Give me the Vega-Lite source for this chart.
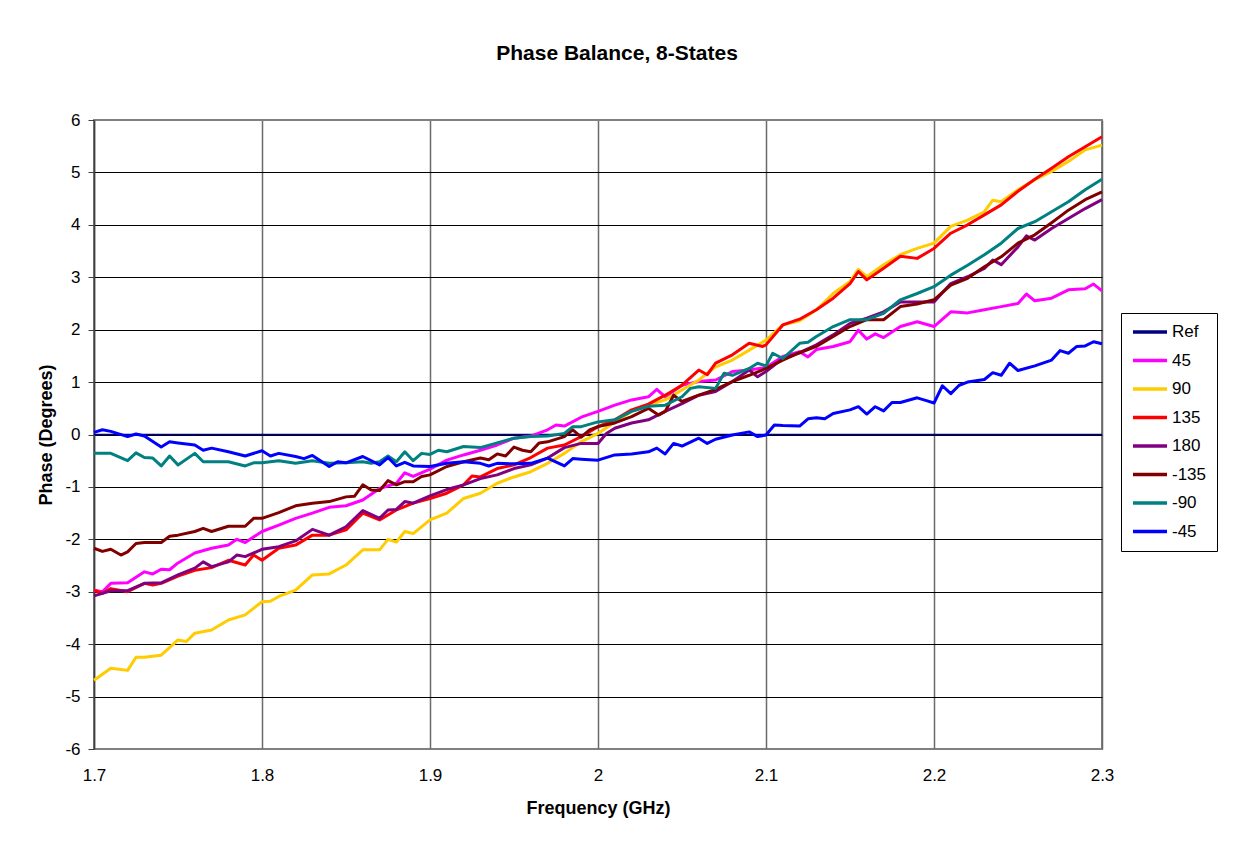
{
  "$schema": "https://vega.github.io/schema/vega-lite/v6.json",
  "autosize": "none",
  "width": 1008,
  "height": 629,
  "padding": {"left": 94, "top": 120, "right": 131, "bottom": 103},
  "background": "white",
  "config": {
    "font": "Liberation Sans",
    "view": {"stroke": "#808080", "strokeWidth": 2}
  },
  "title": {
    "text": "Phase Balance, 8-States",
    "font": "Liberation Sans",
    "fontSize": 21,
    "fontWeight": "bold",
    "color": "black",
    "anchor": "middle",
    "dx": 19,
    "offset": 47
  },
  "data": {
    "values": [
      {"s":"Ref","f":1.7,"v":0},{"s":"Ref","f":1.8,"v":0},{"s":"Ref","f":1.9,"v":0},{"s":"Ref","f":2.0,"v":0},{"s":"Ref","f":2.1,"v":0},{"s":"Ref","f":2.2,"v":0},{"s":"Ref","f":2.3,"v":0},

      {"s":"45","f":1.7,"v":-2.97},{"s":"45","f":1.705,"v":-3.0},{"s":"45","f":1.71,"v":-2.84},{"s":"45","f":1.72,"v":-2.83},{"s":"45","f":1.73,"v":-2.62},{"s":"45","f":1.735,"v":-2.66},{"s":"45","f":1.74,"v":-2.57},{"s":"45","f":1.745,"v":-2.58},{"s":"45","f":1.75,"v":-2.45},{"s":"45","f":1.76,"v":-2.26},{"s":"45","f":1.77,"v":-2.17},{"s":"45","f":1.78,"v":-2.11},{"s":"45","f":1.785,"v":-2.0},{"s":"45","f":1.79,"v":-2.06},{"s":"45","f":1.8,"v":-1.85},{"s":"45","f":1.81,"v":-1.73},{"s":"45","f":1.82,"v":-1.6},{"s":"45","f":1.83,"v":-1.5},{"s":"45","f":1.84,"v":-1.39},{"s":"45","f":1.85,"v":-1.36},{"s":"45","f":1.86,"v":-1.25},{"s":"45","f":1.87,"v":-1.03},{"s":"45","f":1.88,"v":-0.93},{"s":"45","f":1.885,"v":-0.73},{"s":"45","f":1.89,"v":-0.8},{"s":"45","f":1.9,"v":-0.66},{"s":"45","f":1.91,"v":-0.49},{"s":"45","f":1.92,"v":-0.39},{"s":"45","f":1.93,"v":-0.3},{"s":"45","f":1.94,"v":-0.2},{"s":"45","f":1.95,"v":-0.07},{"s":"45","f":1.96,"v":-0.03},{"s":"45","f":1.97,"v":0.09},{"s":"45","f":1.975,"v":0.18},{"s":"45","f":1.98,"v":0.16},{"s":"45","f":1.99,"v":0.33},{"s":"45","f":2.0,"v":0.44},{"s":"45","f":2.01,"v":0.56},{"s":"45","f":2.02,"v":0.66},{"s":"45","f":2.03,"v":0.72},{"s":"45","f":2.035,"v":0.86},{"s":"45","f":2.04,"v":0.72},{"s":"45","f":2.05,"v":0.94},{"s":"45","f":2.06,"v":1.01},{"s":"45","f":2.07,"v":1.04},{"s":"45","f":2.08,"v":1.2},{"s":"45","f":2.09,"v":1.23},{"s":"45","f":2.1,"v":1.28},{"s":"45","f":2.11,"v":1.49},{"s":"45","f":2.12,"v":1.58},{"s":"45","f":2.125,"v":1.48},{"s":"45","f":2.13,"v":1.62},{"s":"45","f":2.14,"v":1.68},{"s":"45","f":2.15,"v":1.77},{"s":"45","f":2.155,"v":1.99},{"s":"45","f":2.16,"v":1.82},{"s":"45","f":2.165,"v":1.92},{"s":"45","f":2.17,"v":1.85},{"s":"45","f":2.18,"v":2.06},{"s":"45","f":2.19,"v":2.15},{"s":"45","f":2.2,"v":2.06},{"s":"45","f":2.21,"v":2.34},{"s":"45","f":2.22,"v":2.32},{"s":"45","f":2.23,"v":2.38},{"s":"45","f":2.24,"v":2.44},{"s":"45","f":2.25,"v":2.5},{"s":"45","f":2.255,"v":2.68},{"s":"45","f":2.26,"v":2.55},{"s":"45","f":2.27,"v":2.6},{"s":"45","f":2.28,"v":2.76},{"s":"45","f":2.29,"v":2.78},{"s":"45","f":2.295,"v":2.87},{"s":"45","f":2.3,"v":2.74},

      {"s":"90","f":1.7,"v":-4.69},{"s":"90","f":1.71,"v":-4.46},{"s":"90","f":1.72,"v":-4.5},{"s":"90","f":1.725,"v":-4.25},{"s":"90","f":1.73,"v":-4.25},{"s":"90","f":1.74,"v":-4.21},{"s":"90","f":1.75,"v":-3.92},{"s":"90","f":1.755,"v":-3.95},{"s":"90","f":1.76,"v":-3.79},{"s":"90","f":1.77,"v":-3.73},{"s":"90","f":1.78,"v":-3.54},{"s":"90","f":1.79,"v":-3.44},{"s":"90","f":1.8,"v":-3.19},{"s":"90","f":1.805,"v":-3.18},{"s":"90","f":1.81,"v":-3.09},{"s":"90","f":1.82,"v":-2.97},{"s":"90","f":1.83,"v":-2.68},{"s":"90","f":1.84,"v":-2.66},{"s":"90","f":1.85,"v":-2.49},{"s":"90","f":1.86,"v":-2.2},{"s":"90","f":1.87,"v":-2.2},{"s":"90","f":1.875,"v":-2.0},{"s":"90","f":1.88,"v":-2.05},{"s":"90","f":1.885,"v":-1.85},{"s":"90","f":1.89,"v":-1.89},{"s":"90","f":1.9,"v":-1.63},{"s":"90","f":1.91,"v":-1.5},{"s":"90","f":1.92,"v":-1.22},{"s":"90","f":1.93,"v":-1.12},{"s":"90","f":1.94,"v":-0.93},{"s":"90","f":1.95,"v":-0.81},{"s":"90","f":1.96,"v":-0.71},{"s":"90","f":1.97,"v":-0.55},{"s":"90","f":1.98,"v":-0.36},{"s":"90","f":1.99,"v":-0.14},{"s":"90","f":2.0,"v":0.02},{"s":"90","f":2.01,"v":0.24},{"s":"90","f":2.02,"v":0.44},{"s":"90","f":2.03,"v":0.56},{"s":"90","f":2.04,"v":0.66},{"s":"90","f":2.05,"v":0.85},{"s":"90","f":2.06,"v":1.04},{"s":"90","f":2.07,"v":1.29},{"s":"90","f":2.08,"v":1.42},{"s":"90","f":2.09,"v":1.61},{"s":"90","f":2.1,"v":1.8},{"s":"90","f":2.11,"v":2.09},{"s":"90","f":2.12,"v":2.17},{"s":"90","f":2.13,"v":2.38},{"s":"90","f":2.14,"v":2.69},{"s":"90","f":2.15,"v":2.92},{"s":"90","f":2.155,"v":3.15},{"s":"90","f":2.16,"v":3.01},{"s":"90","f":2.17,"v":3.24},{"s":"90","f":2.18,"v":3.43},{"s":"90","f":2.19,"v":3.55},{"s":"90","f":2.2,"v":3.65},{"s":"90","f":2.21,"v":3.97},{"s":"90","f":2.22,"v":4.09},{"s":"90","f":2.23,"v":4.25},{"s":"90","f":2.235,"v":4.47},{"s":"90","f":2.24,"v":4.44},{"s":"90","f":2.25,"v":4.67},{"s":"90","f":2.26,"v":4.86},{"s":"90","f":2.27,"v":5.02},{"s":"90","f":2.28,"v":5.21},{"s":"90","f":2.29,"v":5.43},{"s":"90","f":2.3,"v":5.52},

      {"s":"135","f":1.7,"v":-2.97},{"s":"135","f":1.705,"v":-3.03},{"s":"135","f":1.71,"v":-2.94},{"s":"135","f":1.72,"v":-3.0},{"s":"135","f":1.73,"v":-2.84},{"s":"135","f":1.735,"v":-2.87},{"s":"135","f":1.74,"v":-2.84},{"s":"135","f":1.75,"v":-2.7},{"s":"135","f":1.76,"v":-2.59},{"s":"135","f":1.77,"v":-2.54},{"s":"135","f":1.78,"v":-2.4},{"s":"135","f":1.79,"v":-2.49},{"s":"135","f":1.795,"v":-2.3},{"s":"135","f":1.8,"v":-2.4},{"s":"135","f":1.81,"v":-2.17},{"s":"135","f":1.82,"v":-2.11},{"s":"135","f":1.83,"v":-1.92},{"s":"135","f":1.84,"v":-1.92},{"s":"135","f":1.85,"v":-1.82},{"s":"135","f":1.86,"v":-1.5},{"s":"135","f":1.87,"v":-1.63},{"s":"135","f":1.88,"v":-1.44},{"s":"135","f":1.89,"v":-1.31},{"s":"135","f":1.9,"v":-1.22},{"s":"135","f":1.91,"v":-1.12},{"s":"135","f":1.92,"v":-0.96},{"s":"135","f":1.925,"v":-0.79},{"s":"135","f":1.93,"v":-0.81},{"s":"135","f":1.94,"v":-0.65},{"s":"135","f":1.95,"v":-0.58},{"s":"135","f":1.96,"v":-0.44},{"s":"135","f":1.97,"v":-0.26},{"s":"135","f":1.98,"v":-0.2},{"s":"135","f":1.99,"v":-0.04},{"s":"135","f":2.0,"v":0.15},{"s":"135","f":2.01,"v":0.28},{"s":"135","f":2.02,"v":0.47},{"s":"135","f":2.03,"v":0.58},{"s":"135","f":2.04,"v":0.75},{"s":"135","f":2.05,"v":0.94},{"s":"135","f":2.06,"v":1.23},{"s":"135","f":2.065,"v":1.14},{"s":"135","f":2.07,"v":1.36},{"s":"135","f":2.08,"v":1.52},{"s":"135","f":2.09,"v":1.74},{"s":"135","f":2.098,"v":1.68},{"s":"135","f":2.1,"v":1.71},{"s":"135","f":2.11,"v":2.09},{"s":"135","f":2.12,"v":2.2},{"s":"135","f":2.13,"v":2.38},{"s":"135","f":2.14,"v":2.6},{"s":"135","f":2.15,"v":2.88},{"s":"135","f":2.155,"v":3.11},{"s":"135","f":2.16,"v":2.95},{"s":"135","f":2.17,"v":3.17},{"s":"135","f":2.18,"v":3.4},{"s":"135","f":2.19,"v":3.36},{"s":"135","f":2.2,"v":3.55},{"s":"135","f":2.21,"v":3.84},{"s":"135","f":2.22,"v":4.0},{"s":"135","f":2.23,"v":4.19},{"s":"135","f":2.24,"v":4.38},{"s":"135","f":2.25,"v":4.64},{"s":"135","f":2.26,"v":4.87},{"s":"135","f":2.27,"v":5.08},{"s":"135","f":2.28,"v":5.3},{"s":"135","f":2.29,"v":5.49},{"s":"135","f":2.3,"v":5.68},

      {"s":"180","f":1.7,"v":-3.08},{"s":"180","f":1.71,"v":-2.98},{"s":"180","f":1.72,"v":-2.98},{"s":"180","f":1.73,"v":-2.84},{"s":"180","f":1.74,"v":-2.83},{"s":"180","f":1.75,"v":-2.68},{"s":"180","f":1.76,"v":-2.55},{"s":"180","f":1.765,"v":-2.43},{"s":"180","f":1.77,"v":-2.52},{"s":"180","f":1.78,"v":-2.43},{"s":"180","f":1.785,"v":-2.3},{"s":"180","f":1.79,"v":-2.33},{"s":"180","f":1.8,"v":-2.19},{"s":"180","f":1.81,"v":-2.14},{"s":"180","f":1.82,"v":-2.03},{"s":"180","f":1.83,"v":-1.81},{"s":"180","f":1.84,"v":-1.92},{"s":"180","f":1.85,"v":-1.76},{"s":"180","f":1.86,"v":-1.45},{"s":"180","f":1.87,"v":-1.6},{"s":"180","f":1.875,"v":-1.44},{"s":"180","f":1.88,"v":-1.43},{"s":"180","f":1.885,"v":-1.28},{"s":"180","f":1.89,"v":-1.31},{"s":"180","f":1.9,"v":-1.17},{"s":"180","f":1.91,"v":-1.05},{"s":"180","f":1.92,"v":-0.96},{"s":"180","f":1.93,"v":-0.84},{"s":"180","f":1.94,"v":-0.77},{"s":"180","f":1.95,"v":-0.65},{"s":"180","f":1.96,"v":-0.58},{"s":"180","f":1.97,"v":-0.45},{"s":"180","f":1.98,"v":-0.25},{"s":"180","f":1.99,"v":-0.17},{"s":"180","f":2.0,"v":-0.17},{"s":"180","f":2.005,"v":0.02},{"s":"180","f":2.01,"v":0.12},{"s":"180","f":2.02,"v":0.22},{"s":"180","f":2.03,"v":0.28},{"s":"180","f":2.04,"v":0.44},{"s":"180","f":2.05,"v":0.59},{"s":"180","f":2.06,"v":0.75},{"s":"180","f":2.07,"v":0.82},{"s":"180","f":2.08,"v":1.01},{"s":"180","f":2.09,"v":1.23},{"s":"180","f":2.095,"v":1.1},{"s":"180","f":2.1,"v":1.2},{"s":"180","f":2.11,"v":1.45},{"s":"180","f":2.12,"v":1.56},{"s":"180","f":2.13,"v":1.71},{"s":"180","f":2.14,"v":1.9},{"s":"180","f":2.15,"v":2.12},{"s":"180","f":2.16,"v":2.22},{"s":"180","f":2.17,"v":2.34},{"s":"180","f":2.18,"v":2.53},{"s":"180","f":2.19,"v":2.53},{"s":"180","f":2.2,"v":2.53},{"s":"180","f":2.21,"v":2.88},{"s":"180","f":2.22,"v":3.01},{"s":"180","f":2.23,"v":3.17},{"s":"180","f":2.235,"v":3.33},{"s":"180","f":2.24,"v":3.24},{"s":"180","f":2.25,"v":3.58},{"s":"180","f":2.255,"v":3.79},{"s":"180","f":2.26,"v":3.71},{"s":"180","f":2.27,"v":3.93},{"s":"180","f":2.28,"v":4.12},{"s":"180","f":2.29,"v":4.31},{"s":"180","f":2.3,"v":4.48},

      {"s":"-135","f":1.7,"v":-2.17},{"s":"-135","f":1.705,"v":-2.23},{"s":"-135","f":1.71,"v":-2.19},{"s":"-135","f":1.716,"v":-2.3},{"s":"-135","f":1.72,"v":-2.24},{"s":"-135","f":1.725,"v":-2.08},{"s":"-135","f":1.73,"v":-2.06},{"s":"-135","f":1.74,"v":-2.06},{"s":"-135","f":1.745,"v":-1.94},{"s":"-135","f":1.75,"v":-1.92},{"s":"-135","f":1.76,"v":-1.85},{"s":"-135","f":1.765,"v":-1.79},{"s":"-135","f":1.77,"v":-1.85},{"s":"-135","f":1.78,"v":-1.75},{"s":"-135","f":1.79,"v":-1.75},{"s":"-135","f":1.795,"v":-1.6},{"s":"-135","f":1.8,"v":-1.6},{"s":"-135","f":1.81,"v":-1.49},{"s":"-135","f":1.82,"v":-1.36},{"s":"-135","f":1.83,"v":-1.31},{"s":"-135","f":1.84,"v":-1.28},{"s":"-135","f":1.85,"v":-1.19},{"s":"-135","f":1.855,"v":-1.18},{"s":"-135","f":1.86,"v":-0.96},{"s":"-135","f":1.865,"v":-1.06},{"s":"-135","f":1.87,"v":-1.07},{"s":"-135","f":1.875,"v":-0.88},{"s":"-135","f":1.88,"v":-0.96},{"s":"-135","f":1.885,"v":-0.9},{"s":"-135","f":1.89,"v":-0.9},{"s":"-135","f":1.895,"v":-0.8},{"s":"-135","f":1.9,"v":-0.77},{"s":"-135","f":1.91,"v":-0.61},{"s":"-135","f":1.92,"v":-0.52},{"s":"-135","f":1.93,"v":-0.45},{"s":"-135","f":1.935,"v":-0.48},{"s":"-135","f":1.94,"v":-0.37},{"s":"-135","f":1.945,"v":-0.41},{"s":"-135","f":1.95,"v":-0.24},{"s":"-135","f":1.955,"v":-0.3},{"s":"-135","f":1.96,"v":-0.33},{"s":"-135","f":1.965,"v":-0.16},{"s":"-135","f":1.97,"v":-0.14},{"s":"-135","f":1.98,"v":-0.04},{"s":"-135","f":1.985,"v":0.09},{"s":"-135","f":1.99,"v":-0.05},{"s":"-135","f":1.995,"v":0.09},{"s":"-135","f":2.0,"v":0.15},{"s":"-135","f":2.01,"v":0.22},{"s":"-135","f":2.02,"v":0.34},{"s":"-135","f":2.03,"v":0.5},{"s":"-135","f":2.036,"v":0.37},{"s":"-135","f":2.04,"v":0.44},{"s":"-135","f":2.045,"v":0.75},{"s":"-135","f":2.05,"v":0.63},{"s":"-135","f":2.06,"v":0.75},{"s":"-135","f":2.07,"v":0.86},{"s":"-135","f":2.08,"v":1.01},{"s":"-135","f":2.09,"v":1.13},{"s":"-135","f":2.1,"v":1.26},{"s":"-135","f":2.11,"v":1.42},{"s":"-135","f":2.12,"v":1.56},{"s":"-135","f":2.13,"v":1.68},{"s":"-135","f":2.14,"v":1.87},{"s":"-135","f":2.15,"v":2.06},{"s":"-135","f":2.16,"v":2.19},{"s":"-135","f":2.17,"v":2.19},{"s":"-135","f":2.18,"v":2.44},{"s":"-135","f":2.19,"v":2.49},{"s":"-135","f":2.2,"v":2.57},{"s":"-135","f":2.21,"v":2.85},{"s":"-135","f":2.22,"v":2.98},{"s":"-135","f":2.23,"v":3.2},{"s":"-135","f":2.24,"v":3.39},{"s":"-135","f":2.25,"v":3.65},{"s":"-135","f":2.26,"v":3.81},{"s":"-135","f":2.27,"v":4.04},{"s":"-135","f":2.28,"v":4.28},{"s":"-135","f":2.29,"v":4.48},{"s":"-135","f":2.3,"v":4.63},

      {"s":"-90","f":1.7,"v":-0.36},{"s":"-90","f":1.71,"v":-0.36},{"s":"-90","f":1.72,"v":-0.5},{"s":"-90","f":1.725,"v":-0.35},{"s":"-90","f":1.73,"v":-0.44},{"s":"-90","f":1.735,"v":-0.45},{"s":"-90","f":1.74,"v":-0.6},{"s":"-90","f":1.745,"v":-0.41},{"s":"-90","f":1.75,"v":-0.58},{"s":"-90","f":1.76,"v":-0.36},{"s":"-90","f":1.765,"v":-0.52},{"s":"-90","f":1.77,"v":-0.52},{"s":"-90","f":1.78,"v":-0.52},{"s":"-90","f":1.79,"v":-0.6},{"s":"-90","f":1.795,"v":-0.54},{"s":"-90","f":1.8,"v":-0.54},{"s":"-90","f":1.81,"v":-0.5},{"s":"-90","f":1.82,"v":-0.55},{"s":"-90","f":1.83,"v":-0.5},{"s":"-90","f":1.84,"v":-0.55},{"s":"-90","f":1.85,"v":-0.54},{"s":"-90","f":1.86,"v":-0.52},{"s":"-90","f":1.865,"v":-0.55},{"s":"-90","f":1.87,"v":-0.52},{"s":"-90","f":1.875,"v":-0.41},{"s":"-90","f":1.88,"v":-0.52},{"s":"-90","f":1.885,"v":-0.33},{"s":"-90","f":1.89,"v":-0.5},{"s":"-90","f":1.895,"v":-0.36},{"s":"-90","f":1.9,"v":-0.38},{"s":"-90","f":1.905,"v":-0.3},{"s":"-90","f":1.91,"v":-0.33},{"s":"-90","f":1.92,"v":-0.23},{"s":"-90","f":1.93,"v":-0.25},{"s":"-90","f":1.94,"v":-0.16},{"s":"-90","f":1.95,"v":-0.07},{"s":"-90","f":1.96,"v":-0.04},{"s":"-90","f":1.97,"v":-0.03},{"s":"-90","f":1.98,"v":0.02},{"s":"-90","f":1.985,"v":0.15},{"s":"-90","f":1.99,"v":0.15},{"s":"-90","f":2.0,"v":0.24},{"s":"-90","f":2.01,"v":0.28},{"s":"-90","f":2.02,"v":0.44},{"s":"-90","f":2.03,"v":0.54},{"s":"-90","f":2.04,"v":0.56},{"s":"-90","f":2.05,"v":0.72},{"s":"-90","f":2.055,"v":0.88},{"s":"-90","f":2.06,"v":0.91},{"s":"-90","f":2.07,"v":0.88},{"s":"-90","f":2.075,"v":1.17},{"s":"-90","f":2.08,"v":1.13},{"s":"-90","f":2.09,"v":1.26},{"s":"-90","f":2.095,"v":1.36},{"s":"-90","f":2.1,"v":1.31},{"s":"-90","f":2.104,"v":1.55},{"s":"-90","f":2.11,"v":1.45},{"s":"-90","f":2.12,"v":1.74},{"s":"-90","f":2.125,"v":1.76},{"s":"-90","f":2.13,"v":1.87},{"s":"-90","f":2.14,"v":2.06},{"s":"-90","f":2.15,"v":2.19},{"s":"-90","f":2.16,"v":2.19},{"s":"-90","f":2.17,"v":2.31},{"s":"-90","f":2.18,"v":2.57},{"s":"-90","f":2.19,"v":2.69},{"s":"-90","f":2.2,"v":2.82},{"s":"-90","f":2.21,"v":3.04},{"s":"-90","f":2.22,"v":3.23},{"s":"-90","f":2.23,"v":3.43},{"s":"-90","f":2.24,"v":3.65},{"s":"-90","f":2.25,"v":3.93},{"s":"-90","f":2.26,"v":4.06},{"s":"-90","f":2.27,"v":4.25},{"s":"-90","f":2.28,"v":4.44},{"s":"-90","f":2.29,"v":4.67},{"s":"-90","f":2.3,"v":4.87},

      {"s":"-45","f":1.7,"v":0.04},{"s":"-45","f":1.705,"v":0.09},{"s":"-45","f":1.71,"v":0.06},{"s":"-45","f":1.72,"v":-0.04},{"s":"-45","f":1.725,"v":0.01},{"s":"-45","f":1.73,"v":-0.03},{"s":"-45","f":1.74,"v":-0.24},{"s":"-45","f":1.745,"v":-0.14},{"s":"-45","f":1.75,"v":-0.16},{"s":"-45","f":1.76,"v":-0.2},{"s":"-45","f":1.765,"v":-0.3},{"s":"-45","f":1.77,"v":-0.26},{"s":"-45","f":1.78,"v":-0.33},{"s":"-45","f":1.79,"v":-0.41},{"s":"-45","f":1.8,"v":-0.31},{"s":"-45","f":1.805,"v":-0.41},{"s":"-45","f":1.81,"v":-0.36},{"s":"-45","f":1.82,"v":-0.42},{"s":"-45","f":1.825,"v":-0.46},{"s":"-45","f":1.83,"v":-0.4},{"s":"-45","f":1.84,"v":-0.61},{"s":"-45","f":1.845,"v":-0.52},{"s":"-45","f":1.85,"v":-0.54},{"s":"-45","f":1.86,"v":-0.42},{"s":"-45","f":1.87,"v":-0.58},{"s":"-45","f":1.875,"v":-0.44},{"s":"-45","f":1.88,"v":-0.6},{"s":"-45","f":1.885,"v":-0.53},{"s":"-45","f":1.89,"v":-0.6},{"s":"-45","f":1.9,"v":-0.61},{"s":"-45","f":1.91,"v":-0.55},{"s":"-45","f":1.92,"v":-0.52},{"s":"-45","f":1.93,"v":-0.55},{"s":"-45","f":1.935,"v":-0.6},{"s":"-45","f":1.94,"v":-0.55},{"s":"-45","f":1.95,"v":-0.56},{"s":"-45","f":1.96,"v":-0.55},{"s":"-45","f":1.97,"v":-0.45},{"s":"-45","f":1.98,"v":-0.6},{"s":"-45","f":1.985,"v":-0.46},{"s":"-45","f":1.99,"v":-0.47},{"s":"-45","f":2.0,"v":-0.49},{"s":"-45","f":2.01,"v":-0.39},{"s":"-45","f":2.02,"v":-0.37},{"s":"-45","f":2.03,"v":-0.33},{"s":"-45","f":2.035,"v":-0.26},{"s":"-45","f":2.04,"v":-0.37},{"s":"-45","f":2.045,"v":-0.17},{"s":"-45","f":2.05,"v":-0.22},{"s":"-45","f":2.06,"v":-0.07},{"s":"-45","f":2.065,"v":-0.17},{"s":"-45","f":2.07,"v":-0.09},{"s":"-45","f":2.08,"v":-0.01},{"s":"-45","f":2.09,"v":0.05},{"s":"-45","f":2.095,"v":-0.04},{"s":"-45","f":2.1,"v":-0.01},{"s":"-45","f":2.105,"v":0.18},{"s":"-45","f":2.11,"v":0.17},{"s":"-45","f":2.12,"v":0.16},{"s":"-45","f":2.125,"v":0.3},{"s":"-45","f":2.13,"v":0.32},{"s":"-45","f":2.135,"v":0.3},{"s":"-45","f":2.14,"v":0.4},{"s":"-45","f":2.15,"v":0.47},{"s":"-45","f":2.155,"v":0.53},{"s":"-45","f":2.16,"v":0.39},{"s":"-45","f":2.165,"v":0.53},{"s":"-45","f":2.17,"v":0.45},{"s":"-45","f":2.175,"v":0.61},{"s":"-45","f":2.18,"v":0.61},{"s":"-45","f":2.19,"v":0.7},{"s":"-45","f":2.195,"v":0.65},{"s":"-45","f":2.2,"v":0.6},{"s":"-45","f":2.205,"v":0.93},{"s":"-45","f":2.21,"v":0.78},{"s":"-45","f":2.215,"v":0.94},{"s":"-45","f":2.22,"v":1.0},{"s":"-45","f":2.23,"v":1.05},{"s":"-45","f":2.235,"v":1.18},{"s":"-45","f":2.24,"v":1.13},{"s":"-45","f":2.245,"v":1.36},{"s":"-45","f":2.25,"v":1.22},{"s":"-45","f":2.26,"v":1.31},{"s":"-45","f":2.27,"v":1.42},{"s":"-45","f":2.275,"v":1.6},{"s":"-45","f":2.28,"v":1.55},{"s":"-45","f":2.285,"v":1.68},{"s":"-45","f":2.29,"v":1.69},{"s":"-45","f":2.295,"v":1.77},{"s":"-45","f":2.3,"v":1.73}
    ]
  },
  "mark": {"type": "line", "strokeJoin": "round", "strokeCap": "butt"},
  "encoding": {
    "x": {
      "field": "f", "type": "quantitative",
      "scale": {"domain": [1.7, 2.3], "nice": false, "zero": false},
      "axis": {
        "title": "Frequency (GHz)",
        "values": [1.7, 1.8, 1.9, 2.0, 2.1, 2.2, 2.3],
        "format": "~g",
        "domain": false,
        "ticks": false,
        "labelPadding": 18,
        "labelFont": "Liberation Sans", "labelFontSize": 17, "labelColor": "black",
        "labelFlush": false,
        "grid": true, "gridColor": "#6a6a6a", "gridWidth": 1.5,
        "titleFont": "Liberation Sans", "titleFontSize": 18, "titleFontWeight": "bold", "titleColor": "black",
        "titleY": 59, "titleBaseline": "middle"
      }
    },
    "y": {
      "field": "v", "type": "quantitative",
      "scale": {"domain": [-6, 6], "nice": false, "zero": false},
      "axis": {
        "title": "Phase (Degrees)",
        "values": [-6, -5, -4, -3, -2, -1, 0, 1, 2, 3, 4, 5, 6],
        "labelExpr": "'' + datum.value",
        "domain": true, "domainColor": "#404040", "domainWidth": 1.5,
        "ticks": true, "tickSize": 6, "tickColor": "#404040", "tickWidth": 1,
        "labelPadding": 8,
        "labelFont": "Liberation Sans", "labelFontSize": 17, "labelColor": "black",
        "labelFlush": false,
        "grid": true,
        "gridColor": {"condition": {"test": "abs(datum.value) == 6", "value": "#808080"}, "value": "#000000"},
        "gridWidth": 1,
        "titleFont": "Liberation Sans", "titleFontSize": 18, "titleFontWeight": "bold", "titleColor": "black",
        "titleX": -48, "titleBaseline": "middle"
      }
    },
    "color": {
      "field": "s", "type": "nominal",
      "scale": {
        "domain": ["Ref", "45", "90", "135", "180", "-135", "-90", "-45"],
        "range": ["#000080", "#FF00FF", "#FFCC00", "#FF0000", "#800080", "#800000", "#008080", "#0000FF"]
      },
      "legend": {
        "title": null,
        "orient": "none",
        "legendX": 1027,
        "legendY": 193,
        "strokeColor": "black",
        "fillColor": "white",
        "padding": 10,
        "symbolType": "stroke",
        "symbolSize": 1156,
        "symbolStrokeWidth": 3.5,
        "labelFont": "Liberation Sans",
        "labelFontSize": 17,
        "labelColor": "black",
        "labelOffset": 3,
        "clipHeight": 18,
        "rowPadding": 10.5
      }
    },
    "strokeWidth": {
      "condition": {"test": "datum.s === 'Ref'", "value": 1.5},
      "value": 3
    }
  }
}
